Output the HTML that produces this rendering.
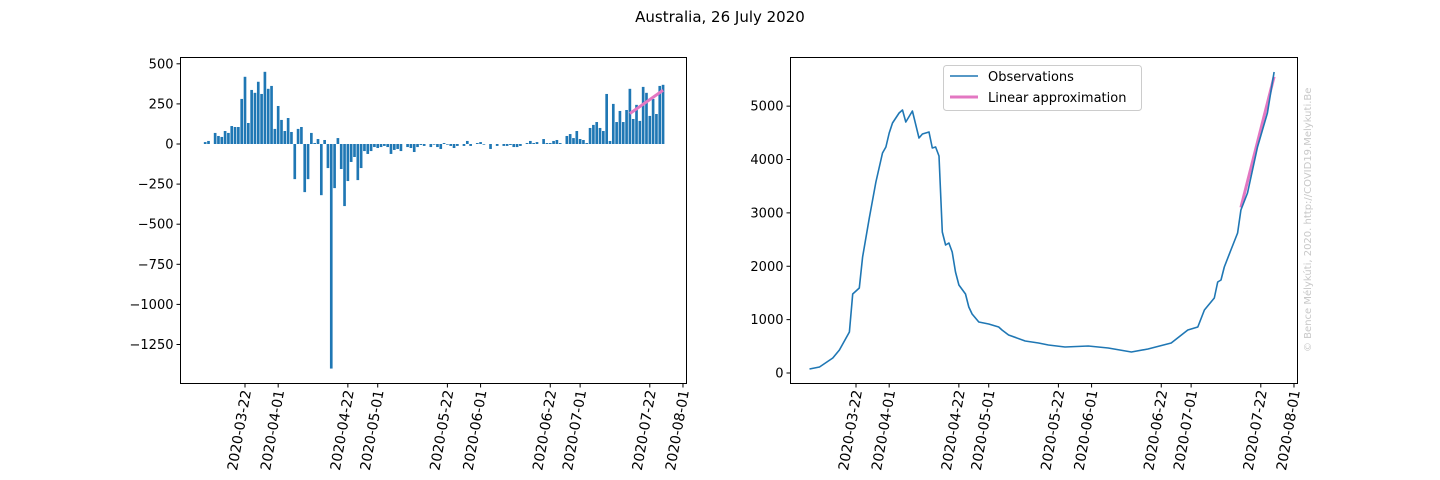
<!DOCTYPE html>
<html><head><meta charset="utf-8"><style>
html,body{margin:0;padding:0;background:#fff;}
svg{display:block;font-family:"DejaVu Sans","Liberation Sans",sans-serif;}
</style></head><body>
<svg id="c" width="1440" height="480" viewBox="0 0 1440 480" xmlns="http://www.w3.org/2000/svg">
<text x="720" y="22" text-anchor="middle" font-size="15">Australia, 26 July 2020</text>
<text transform="translate(1311,352) rotate(-90)" font-size="10" fill="#c8c8c8">© Bence Mélykúti, 2020. http://COVID19.Melykuti.Be</text>
</svg>
<script>
// Left chart: daily change (index i -> day i-12 relative to 2020-03-22)
const barStartDay = -12;
const dailyChange = [12,19,0,69,50,44,81,69,112,106,106,281,419,131,337,319,388,312,450,344,362,94,237,150,81,162,75,-219,94,106,-300,-219,69,6,31,-319,25,-150,-1400,-275,37,-156,-387,-231,-112,-81,-225,-150,-44,-62,-44,-19,-25,-19,-12,-19,-62,-37,-31,-44,0,-19,-25,-50,-19,-6,-12,0,-19,-4,
-19,-31,6,-4,-12,-25,-12,0,-12,19,-12,0,6,12,-4,0,-31,0,-12,0,-12,-12,-6,-19,-19,-12,0,6,19,6,12,0,31,6,6,19,25,6,0,50,62,37,81,31,25,6,100,119,137,100,81,312,19,250,137,206,137,212,344,156,244,144,356,319,175,281,187,362,369];
const leftFitDays = [116,126];
const leftFitValues = [190,335];
// Right chart: active cases
const activeDays = [-14,-11,-7,-5,-2,-1,1,2,4,6,8,9,10,11,13,14,15,17,19,20,22,23,24,25,26,27,28,29,30,31,33,34,35,37,40,43,44,46,51,55,58,63,70,76,83,88,95,100,103,105,108,109,110,111,113,115,116,118,121,124,126];
const activeCases = [75,112,281,431,768,1480,1592,2173,2904,3579,4122,4235,4497,4684,4872,4928,4703,4909,4403,4478,4516,4216,4235,4066,2642,2398,2436,2267,1892,1649,1480,1237,1106,956,918,862,806,712,600,562,525,487,506,468,393,450,562,806,862,1180,1405,1705,1742,1986,2305,2623,3054,3373,4235,4872,5640];
const rightFitDays = [116,126];
const rightFitValues = [3100,5550];
// Axes ticks
const dateTickDays = [0,10,31,40,61,71,92,101,122,132];
const dateTickLabels = ["2020-03-22","2020-04-01","2020-04-22","2020-05-01","2020-05-22","2020-06-01","2020-06-22","2020-07-01","2020-07-22","2020-08-01"];
const leftYTicks = [500,250,0,-250,-500,-750,-1000,-1250];
const rightYTicks = [0,1000,2000,3000,4000,5000];

const NS="http://www.w3.org/2000/svg";
const svg=document.getElementById('c');
function mk(tag,attrs,parent){const e=document.createElementNS(NS,tag);for(const k in attrs)e.setAttribute(k,attrs[k]);(parent||svg).appendChild(e);return e;}
const PXD=3.318;
const lx=d=>245+d*PXD, rx=d=>856+d*PXD;
const ly=v=>144-v*0.1604, ry=v=>373-v*0.05337;
const fmt=v=>v<0?'\u2212'+Math.abs(v):String(v);

function axesFrame(x0,x1,name){
  const r=mk('rect',{x:x0,y:57.5,width:x1-x0,height:326,fill:'none',stroke:'#000','stroke-width':1});
  
  
}
function xTicks(xf,name){
  const g=mk('g',{});
  
  
  dateTickDays.forEach((d,i)=>{
    const x=xf(d);
    mk('line',{x1:x,x2:x,y1:383.5,y2:387.5,stroke:'#000'},g);
    const t=mk('text',{transform:`translate(${x+6},391) rotate(-80)`,'text-anchor':'end','font-size':14},g);
    
    
    t.textContent=dateTickLabels[i];
  });
}
function yTicks(ticks,yf,x0,name){
  const g=mk('g',{});
  
  
  ticks.forEach(v=>{
    const y=yf(v);
    mk('line',{x1:x0-4,x2:x0,y1:y,y2:y,stroke:'#000'},g);
    const t=mk('text',{x:x0-7,y:y+4.5,'text-anchor':'end','font-size':13},g);
    
    
    t.textContent=fmt(v);
  });
}

// Left chart
const gb=mk('g',{fill:'#1f77b4'});


dailyChange.forEach((v,i)=>{
  const d=barStartDay+i, x=lx(d)-1.33;
  const y0=ly(0), y1=ly(v);
  const b=mk('rect',{x:x,y:Math.min(y0,y1),width:2.66,height:Math.abs(y1-y0)},gb);
  
  
});
const lf=mk('line',{x1:lx(leftFitDays[0]),y1:ly(leftFitValues[0]),x2:lx(leftFitDays[1]),y2:ly(leftFitValues[1]),stroke:'#e377c2','stroke-width':3});


axesFrame(180.5,686.5,'left-axes');
xTicks(lx,'left-x-axis');
yTicks(leftYTicks,ly,180.5,'left-y-axis');

// Right chart
const pts=activeDays.map((d,i)=>rx(d).toFixed(1)+','+ry(activeCases[i]).toFixed(1)).join(' ');
const pl=mk('polyline',{points:pts,fill:'none',stroke:'#1f77b4','stroke-width':1.6,'stroke-linejoin':'round'});


const rf=mk('line',{x1:rx(rightFitDays[0]),y1:ry(rightFitValues[0]),x2:rx(rightFitDays[1]),y2:ry(rightFitValues[1]),stroke:'#e377c2','stroke-width':3});


svg.appendChild(pl);
axesFrame(790.5,1297.5,'right-axes');
xTicks(rx,'right-x-axis');
yTicks(rightYTicks,ry,790.5,'right-y-axis');

// Legend
const lg=mk('g',{});


mk('rect',{x:943.5,y:65.5,width:198,height:45,rx:3,fill:'#fff','fill-opacity':0.8,stroke:'#ccc'},lg);
mk('line',{x1:950,x2:978,y1:76,y2:76,stroke:'#1f77b4','stroke-width':1.6},lg);
mk('line',{x1:950,x2:978,y1:97,y2:97,stroke:'#e377c2','stroke-width':3},lg);
const t1=mk('text',{x:988,y:81,'font-size':13},lg);


t1.textContent='Observations';
const t2=mk('text',{x:988,y:102,'font-size':13},lg);


t2.textContent='Linear approximation';
</script>
</body></html>
